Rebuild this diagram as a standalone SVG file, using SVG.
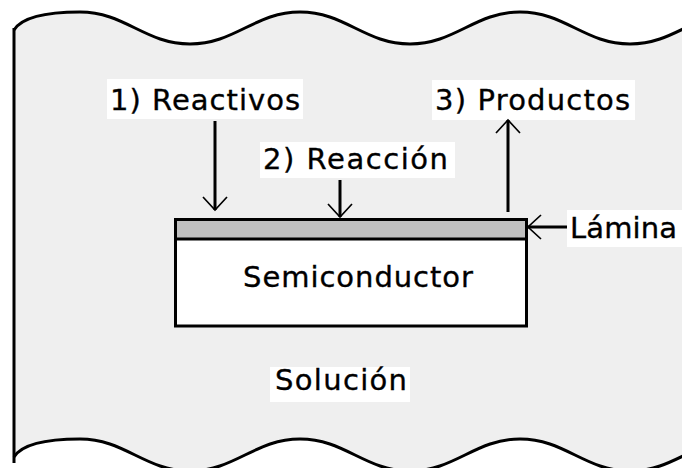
<svg xmlns="http://www.w3.org/2000/svg" width="682" height="468" viewBox="0 0 682 468">
  <style>
    .lbl { font-family: "DejaVu Sans", "Liberation Sans", sans-serif; font-size: 29px; fill: #000; stroke: #000; stroke-width: 0.35; }
    .box { fill: #ffffff; stroke: none; }
    .wave { fill: none; stroke: #000; stroke-width: 3; }
    .cap { fill: #ffffff; stroke: none; }
    .conn { fill: none; stroke: #000; stroke-width: 3; marker-end: url(#ah); }
  </style>
  <defs>
    <marker id="ah" markerUnits="userSpaceOnUse" markerWidth="30" markerHeight="30" viewBox="-15 -15 30 30" refX="0" refY="0" orient="auto" overflow="visible">
      <path d="M-13,-12 L0,0 L-13,12" fill="none" stroke="#000" stroke-width="1.7"/>
    </marker>
  </defs>

  <!-- background / solution -->
  <g id="solution-bg">
    <rect x="0" y="0" width="682" height="468" fill="#ffffff"/>
    <rect x="14" y="0" width="668" height="468" fill="#efefef"/>
    <path class="cap" d="M14,0 L14,30 C22,17 45,12 80,12 C125,12 145,44 190,44 C235,44 255,12 300,12 C345,12 365,44 410,44 C455,44 475,12 520,12 C565,12 585,44 630,44 C675,44 695,12 740,12 L740,0 Z"/>
    <path class="cap" d="M14,468 L14,457 C22,444 45,439 80,439 C125,439 145,471 190,471 C235,471 255,439 300,439 C345,439 365,471 410,471 C455,471 475,439 520,439 C565,439 585,471 630,471 C675,471 695,439 740,439 L740,468 Z"/>
    <path class="wave" d="M14,30 C22,17 45,12 80,12 C125,12 145,44 190,44 C235,44 255,12 300,12 C345,12 365,44 410,44 C455,44 475,12 520,12 C565,12 585,44 630,44 C675,44 695,12 740,12"/>
    <path class="wave" d="M14,457 C22,444 45,439 80,439 C125,439 145,471 190,471 C235,471 255,439 300,439 C345,439 365,471 410,471 C455,471 475,439 520,439 C565,439 585,471 630,471 C675,471 695,439 740,439"/>
    <line x1="14" y1="28" x2="14" y2="463" stroke="#000" stroke-width="3"/>
  </g>

  <!-- semiconductor with film -->
  <g id="semiconductor">
    <rect x="175.5" y="219.5" width="351" height="106.5" fill="#ffffff" stroke="#000" stroke-width="3"/>
    <rect x="175.5" y="219.5" width="351" height="19.5" fill="#c0c0c0" stroke="#000" stroke-width="3"/>
    <text class="lbl" x="243" y="287" textLength="230" lengthAdjust="spacing">Semiconductor</text>
  </g>

  <g id="reactivos">
    <rect class="box" x="107" y="79" width="196" height="40"/>
    <text class="lbl" x="110" y="110" textLength="190" lengthAdjust="spacing">1) Reactivos</text>
  </g>

  <g id="reaccion">
    <rect class="box" x="260" y="142" width="195" height="36"/>
    <text class="lbl" x="263" y="169" textLength="185" lengthAdjust="spacing">2) Reacción</text>
  </g>

  <g id="productos">
    <rect class="box" x="432" y="80" width="203" height="40"/>
    <text class="lbl" x="435" y="110" textLength="195" lengthAdjust="spacing">3) Productos</text>
  </g>

  <g id="lamina">
    <rect class="box" x="567" y="210" width="115" height="37"/>
    <text class="lbl" x="570" y="238" textLength="107" lengthAdjust="spacing">Lámina</text>
  </g>

  <g id="solucion">
    <rect class="box" x="270" y="367" width="140" height="35"/>
    <text class="lbl" x="275" y="390" textLength="132" lengthAdjust="spacing">Solución</text>
  </g>

  <g id="connectors">
    <line class="conn" x1="215" y1="121" x2="215" y2="210"/>
    <line class="conn" x1="340" y1="180" x2="340" y2="217"/>
    <line class="conn" x1="508" y1="212" x2="508" y2="120"/>
    <line class="conn" x1="567" y1="227" x2="528" y2="227"/>
  </g>
</svg>
